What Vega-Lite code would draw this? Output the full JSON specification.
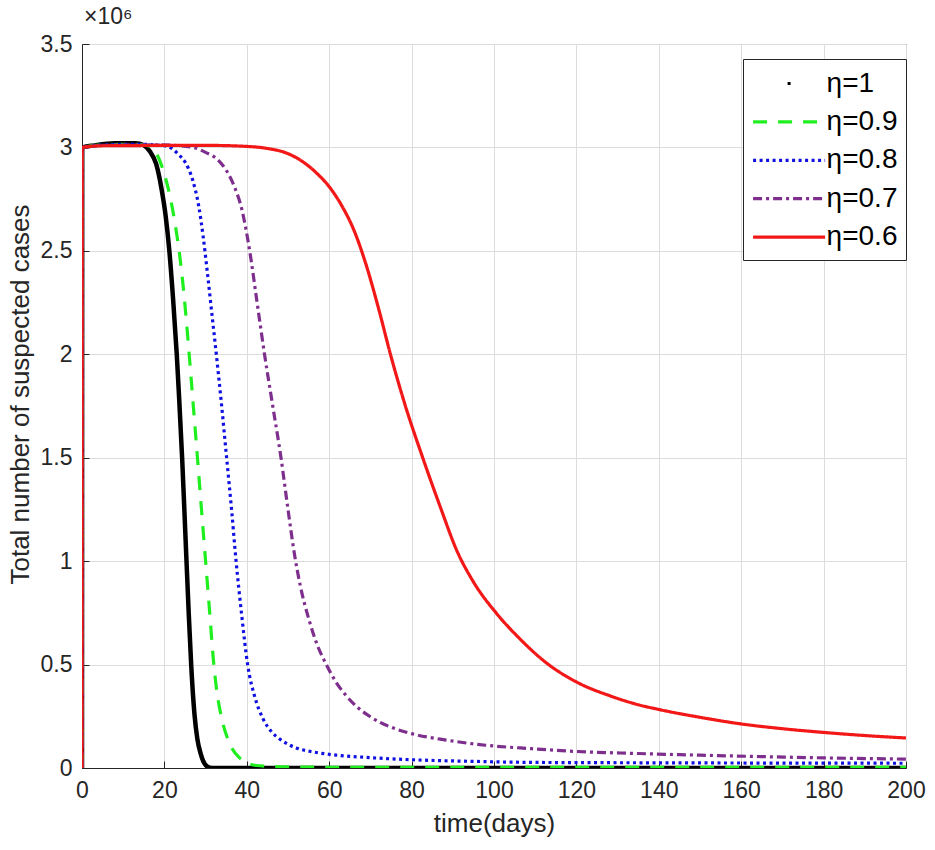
{
  "$schema": "https://vega.github.io/schema/vega-lite/v6.json",
  "width": 824,
  "height": 724,
  "autosize": {"type": "none"},
  "padding": {"left": 82, "top": 44, "right": 29, "bottom": 82},
  "background": "white",
  "title": {"text": "×10⁶", "anchor": "start", "frame": "group", "fontSize": 23, "fontWeight": "normal", "color": "#262626", "font": "Liberation Sans", "offset": 4, "dx": 2},
  "config": {
    "font": "Liberation Sans",
    "view": {"stroke": "#262626", "strokeWidth": 1},
    "axis": {"labelFontSize": 23, "labelColor": "#262626", "titleFontSize": 26, "titleColor": "#262626", "titleFontWeight": "normal", "domainColor": "#262626", "tickColor": "#262626", "gridColor": "#dcdcdc", "gridWidth": 1, "labelFont": "Liberation Sans", "titleFont": "Liberation Sans", "labelFlush": false}
  },
  "data": {"values": [
    {"t":0,"cases":0,"eta":"η=1"},{"t":0.05,"cases":3000000,"eta":"η=1"},{"t":3,"cases":3010000,"eta":"η=1"},{"t":8,"cases":3020000,"eta":"η=1"},{"t":13,"cases":3020000,"eta":"η=1"},{"t":15,"cases":3010000,"eta":"η=1"},{"t":16.5,"cases":2980000,"eta":"η=1"},{"t":18,"cases":2920000,"eta":"η=1"},{"t":19.3,"cases":2800000,"eta":"η=1"},{"t":20.3,"cases":2670000,"eta":"η=1"},{"t":21.2,"cases":2500000,"eta":"η=1"},{"t":22.1,"cases":2270000,"eta":"η=1"},{"t":23,"cases":2000000,"eta":"η=1"},{"t":23.6,"cases":1780000,"eta":"η=1"},{"t":24.3,"cases":1500000,"eta":"η=1"},{"t":24.8,"cases":1270000,"eta":"η=1"},{"t":25.3,"cases":1030000,"eta":"η=1"},{"t":25.9,"cases":750000,"eta":"η=1"},{"t":26.5,"cases":500000,"eta":"η=1"},{"t":27.3,"cases":260000,"eta":"η=1"},{"t":28,"cases":140000,"eta":"η=1"},{"t":28.8,"cases":70000,"eta":"η=1"},{"t":29.5,"cases":30000,"eta":"η=1"},{"t":30.1,"cases":12000,"eta":"η=1"},{"t":31,"cases":2000,"eta":"η=1"},{"t":32,"cases":0,"eta":"η=1"},{"t":200,"cases":0,"eta":"η=1"},

    {"t":0,"cases":0,"eta":"η=0.9"},{"t":0.05,"cases":3000000,"eta":"η=0.9"},{"t":5,"cases":3012000,"eta":"η=0.9"},{"t":12,"cases":3015000,"eta":"η=0.9"},{"t":16,"cases":3008000,"eta":"η=0.9"},{"t":17.2,"cases":2995000,"eta":"η=0.9"},{"t":18.8,"cases":2940000,"eta":"η=0.9"},{"t":20,"cases":2870000,"eta":"η=0.9"},{"t":21.4,"cases":2760000,"eta":"η=0.9"},{"t":22.6,"cases":2630000,"eta":"η=0.9"},{"t":23.7,"cases":2480000,"eta":"η=0.9"},{"t":24.7,"cases":2300000,"eta":"η=0.9"},{"t":25.6,"cases":2100000,"eta":"η=0.9"},{"t":26.5,"cases":1880000,"eta":"η=0.9"},{"t":27.3,"cases":1680000,"eta":"η=0.9"},{"t":28.1,"cases":1480000,"eta":"η=0.9"},{"t":29,"cases":1250000,"eta":"η=0.9"},{"t":30,"cases":1000000,"eta":"η=0.9"},{"t":31,"cases":750000,"eta":"η=0.9"},{"t":31.9,"cases":520000,"eta":"η=0.9"},{"t":32.8,"cases":360000,"eta":"η=0.9"},{"t":33.8,"cases":250000,"eta":"η=0.9"},{"t":35.8,"cases":120000,"eta":"η=0.9"},{"t":38.2,"cases":50000,"eta":"η=0.9"},{"t":42.3,"cases":12000,"eta":"η=0.9"},{"t":50,"cases":5000,"eta":"η=0.9"},{"t":70,"cases":3000,"eta":"η=0.9"},{"t":200,"cases":3000,"eta":"η=0.9"},

    {"t":0,"cases":0,"eta":"η=0.8"},{"t":0.05,"cases":3000000,"eta":"η=0.8"},{"t":6,"cases":3012000,"eta":"η=0.8"},{"t":14,"cases":3015000,"eta":"η=0.8"},{"t":20,"cases":3008000,"eta":"η=0.8"},{"t":21.8,"cases":2995000,"eta":"η=0.8"},{"t":23.5,"cases":2965000,"eta":"η=0.8"},{"t":25,"cases":2930000,"eta":"η=0.8"},{"t":26.9,"cases":2840000,"eta":"η=0.8"},{"t":28.3,"cases":2720000,"eta":"η=0.8"},{"t":29.4,"cases":2570000,"eta":"η=0.8"},{"t":30.4,"cases":2400000,"eta":"η=0.8"},{"t":31.5,"cases":2200000,"eta":"η=0.8"},{"t":32.6,"cases":2000000,"eta":"η=0.8"},{"t":33.9,"cases":1750000,"eta":"η=0.8"},{"t":35.1,"cases":1500000,"eta":"η=0.8"},{"t":36.3,"cases":1250000,"eta":"η=0.8"},{"t":37.4,"cases":1000000,"eta":"η=0.8"},{"t":38.7,"cases":750000,"eta":"η=0.8"},{"t":40.2,"cases":500000,"eta":"η=0.8"},{"t":42,"cases":340000,"eta":"η=0.8"},{"t":43.9,"cases":240000,"eta":"η=0.8"},{"t":46,"cases":175000,"eta":"η=0.8"},{"t":48,"cases":140000,"eta":"η=0.8"},{"t":52,"cases":97000,"eta":"η=0.8"},{"t":56,"cases":78000,"eta":"η=0.8"},{"t":60,"cases":66000,"eta":"η=0.8"},{"t":70,"cases":50000,"eta":"η=0.8"},{"t":80,"cases":40000,"eta":"η=0.8"},{"t":95,"cases":32000,"eta":"η=0.8"},{"t":110,"cases":27000,"eta":"η=0.8"},{"t":140,"cases":25000,"eta":"η=0.8"},{"t":200,"cases":23000,"eta":"η=0.8"},

    {"t":0,"cases":0,"eta":"η=0.7"},{"t":0.05,"cases":3000000,"eta":"η=0.7"},{"t":8,"cases":3012000,"eta":"η=0.7"},{"t":20,"cases":3012000,"eta":"η=0.7"},{"t":26.9,"cases":3000000,"eta":"η=0.7"},{"t":30.1,"cases":2975000,"eta":"η=0.7"},{"t":33,"cases":2940000,"eta":"η=0.7"},{"t":35,"cases":2890000,"eta":"η=0.7"},{"t":37,"cases":2810000,"eta":"η=0.7"},{"t":38.8,"cases":2700000,"eta":"η=0.7"},{"t":40.7,"cases":2500000,"eta":"η=0.7"},{"t":42.5,"cases":2250000,"eta":"η=0.7"},{"t":44.3,"cases":2000000,"eta":"η=0.7"},{"t":46.3,"cases":1750000,"eta":"η=0.7"},{"t":48.3,"cases":1500000,"eta":"η=0.7"},{"t":50,"cases":1250000,"eta":"η=0.7"},{"t":51.6,"cases":1030000,"eta":"η=0.7"},{"t":53,"cases":880000,"eta":"η=0.7"},{"t":55.2,"cases":710000,"eta":"η=0.7"},{"t":57,"cases":600000,"eta":"η=0.7"},{"t":59.3,"cases":500000,"eta":"η=0.7"},{"t":61.5,"cases":420000,"eta":"η=0.7"},{"t":64.1,"cases":350000,"eta":"η=0.7"},{"t":66.5,"cases":300000,"eta":"η=0.7"},{"t":69.8,"cases":250000,"eta":"η=0.7"},{"t":72.2,"cases":222000,"eta":"η=0.7"},{"t":76,"cases":190000,"eta":"η=0.7"},{"t":80,"cases":166000,"eta":"η=0.7"},{"t":88.4,"cases":135000,"eta":"η=0.7"},{"t":98,"cases":110000,"eta":"η=0.7"},{"t":108.6,"cases":94000,"eta":"η=0.7"},{"t":120,"cases":80000,"eta":"η=0.7"},{"t":135,"cases":70000,"eta":"η=0.7"},{"t":150,"cases":62000,"eta":"η=0.7"},{"t":165,"cases":55000,"eta":"η=0.7"},{"t":180,"cases":49000,"eta":"η=0.7"},{"t":200,"cases":43000,"eta":"η=0.7"},

    {"t":0,"cases":0,"eta":"η=0.6"},{"t":0.05,"cases":3000000,"eta":"η=0.6"},{"t":5,"cases":3008000,"eta":"η=0.6"},{"t":30,"cases":3010000,"eta":"η=0.6"},{"t":40,"cases":3005000,"eta":"η=0.6"},{"t":45,"cases":2995000,"eta":"η=0.6"},{"t":50,"cases":2970000,"eta":"η=0.6"},{"t":54,"cases":2925000,"eta":"η=0.6"},{"t":57,"cases":2875000,"eta":"η=0.6"},{"t":60,"cases":2810000,"eta":"η=0.6"},{"t":63,"cases":2720000,"eta":"η=0.6"},{"t":66,"cases":2600000,"eta":"η=0.6"},{"t":69,"cases":2430000,"eta":"η=0.6"},{"t":72,"cases":2220000,"eta":"η=0.6"},{"t":75,"cases":1990000,"eta":"η=0.6"},{"t":78.5,"cases":1750000,"eta":"η=0.6"},{"t":82.7,"cases":1500000,"eta":"η=0.6"},{"t":87,"cases":1260000,"eta":"η=0.6"},{"t":91,"cases":1050000,"eta":"η=0.6"},{"t":95,"cases":900000,"eta":"η=0.6"},{"t":100.5,"cases":750000,"eta":"η=0.6"},{"t":106,"cases":630000,"eta":"η=0.6"},{"t":112.6,"cases":510000,"eta":"η=0.6"},{"t":120.6,"cases":410000,"eta":"η=0.6"},{"t":128,"cases":350000,"eta":"η=0.6"},{"t":135.2,"cases":305000,"eta":"η=0.6"},{"t":140,"cases":283000,"eta":"η=0.6"},{"t":150,"cases":245000,"eta":"η=0.6"},{"t":160,"cases":213000,"eta":"η=0.6"},{"t":170,"cases":190000,"eta":"η=0.6"},{"t":180,"cases":172000,"eta":"η=0.6"},{"t":190,"cases":157000,"eta":"η=0.6"},{"t":200,"cases":145000,"eta":"η=0.6"}
  ]},
  "encoding": {
    "x": {"field": "t", "type": "quantitative", "scale": {"domain": [0, 200], "nice": false},
      "axis": {"title": "time(days)", "values": [0,20,40,60,80,100,120,140,160,180,200], "tickSize": -7, "labelPadding": 18, "titlePadding": 8, "grid": true}},
    "y": {"field": "cases", "type": "quantitative", "scale": {"domain": [0, 3500000], "nice": false},
      "axis": {"title": "Total number of suspected cases", "values": [0,500000,1000000,1500000,2000000,2500000,3000000,3500000], "labelExpr": "datum.value/1000000", "tickSize": -7, "labelPadding": 17, "titlePadding": 7, "titleY": 350, "grid": true}}
  },
  "layer": [
    {
      "transform": [{"filter": "datum.eta == 'η=1'"}],
      "mark": {"type": "line", "color": "black", "strokeWidth": 4.5, "clip": true, "interpolate": "monotone"}
    },
    {
      "mark": {"type": "line", "strokeWidth": 3.2, "clip": true, "strokeCap": "butt", "interpolate": "monotone"},
      "encoding": {
        "color": {"field": "eta", "type": "nominal",
          "scale": {"domain": ["η=1","η=0.9","η=0.8","η=0.7","η=0.6"], "range": ["#000000","#1fee1f","#1010e0","#7e2f8e","#f21818"]},
          "legend": {"title": null, "orient": "none", "legendX": 661, "legendY": 15, "symbolType": "M-2.5,0H2.5", "symbolSize": 830, "symbolOffset": 21.6, "symbolStrokeWidth": 3.2, "labelFontSize": 28, "labelColor": "#000000", "labelOffset": 21, "rowPadding": 7.4, "padding": 8, "strokeColor": "#262626", "fillColor": "white", "cornerRadius": 0}},
        "strokeDash": {"field": "eta", "type": "nominal",
          "scale": {"domain": ["η=1","η=0.9","η=0.8","η=0.7","η=0.6"], "range": [[0.01,34.5,3,200],[14,11],[3,3.5],[9,4,3,4],[1,0]]},
          "legend": {"title": null, "orient": "none", "legendX": 661, "legendY": 15}}
      }
    }
  ]
}
